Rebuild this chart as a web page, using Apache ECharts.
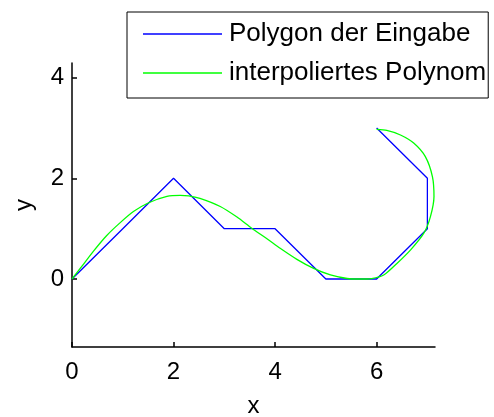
<!DOCTYPE html>
<html>
<head>
<meta charset="utf-8">
<script src="https://cdn.jsdelivr.net/npm/echarts@6/dist/echarts.min.js"></script>
<style>
  html, body { margin: 0; padding: 0; background: #fff; }
  #chart { width: 494px; height: 417px; }
</style>
</head>
<body>
<div id="chart"></div>
<script>
// Input polygon vertices [x, y]
const polygonPoints = [
  [0, 0], [1, 1], [2, 2], [3, 1], [4, 1], [5, 0], [6, 0], [7, 1], [7, 2], [6, 3]
];

// Sampled points along the interpolating curve [x, y]
const curvePoints = [
  [0, 0], [0.2, 0.26], [0.42, 0.55], [0.68, 0.86], [0.95, 1.12], [1.21, 1.34],
  [1.5, 1.51], [1.87, 1.64], [2.13, 1.66], [2.3, 1.65], [2.52, 1.6], [2.92, 1.44],
  [3.25, 1.23], [3.54, 1.01], [3.84, 0.8], [4.1, 0.61], [4.43, 0.39], [4.76, 0.21],
  [5.09, 0.08], [5.42, 0.01], [5.68, 0], [5.9, 0.01], [6.14, 0.08], [6.4, 0.31],
  [6.67, 0.58], [6.93, 0.91], [7.06, 1.24], [7.13, 1.64], [7.1, 2.03], [6.96, 2.43],
  [6.73, 2.7], [6.47, 2.86], [6.2, 2.95], [6, 2.97]
];

const seriesNames = ['Polygon der Eingabe', 'interpoliertes Polynom'];
const xTicks = [0, 2, 4, 6];
const yTicks = [0, 2, 4];

const FONT = '"Liberation Sans", Arial, sans-serif';

const chart = echarts.init(document.getElementById('chart'), null, { renderer: 'canvas' });

const tickStyle = { show: true, inside: true, length: 5, lineStyle: { color: '#000', width: 1.5 } };

const axisCommon = {
  type: 'value',
  axisLine: { show: true, onZero: false, lineStyle: { color: '#000', width: 1.5 } },
  splitLine: { show: false },
  nameTextStyle: { fontFamily: FONT, fontSize: 24, color: '#000' }
};

chart.setOption({
  animation: false,
  backgroundColor: '#fff',
  grid: { left: 72, right: 59, top: 63, bottom: 70, containLabel: false, outerBoundsMode: 'none' },
  legend: {
    orient: 'vertical',
    left: 127,
    top: 12,
    padding: [9, 2, 12, 16],
    itemGap: 13,
    itemWidth: 79,
    itemHeight: 1.5,
    icon: 'rect',
    borderColor: '#000',
    borderWidth: 1,
    textStyle: { fontFamily: FONT, fontSize: 26, color: '#000', padding: [0, 0, 0, 2] },
    data: seriesNames
  },
  xAxis: Object.assign({}, axisCommon, {
    min: 0, max: 7.15,
    name: 'x', nameLocation: 'middle', nameGap: 47,
    axisTick: Object.assign({}, tickStyle, { customValues: xTicks }),
    axisLabel: { customValues: xTicks, fontFamily: FONT, fontSize: 24, color: '#000', margin: 13 }
  }),
  yAxis: Object.assign({}, axisCommon, {
    min: -1.35, max: 4.29,
    name: 'y', nameLocation: 'middle', nameGap: 36, nameRotate: 90,
    axisTick: Object.assign({}, tickStyle, { customValues: yTicks }),
    axisLabel: { customValues: yTicks, fontFamily: FONT, fontSize: 24, color: '#000', margin: 8 }
  }),
  series: [
    {
      name: seriesNames[0], type: 'line', data: polygonPoints,
      symbol: 'none', lineStyle: { color: '#0000ff', width: 1.3 }, itemStyle: { color: '#0000ff' }
    },
    {
      name: seriesNames[1], type: 'line', data: curvePoints, smooth: 0.25,
      symbol: 'none', lineStyle: { color: '#00ff00', width: 1.3 }, itemStyle: { color: '#00ff00' }
    }
  ]
});
</script>
</body>
</html>
